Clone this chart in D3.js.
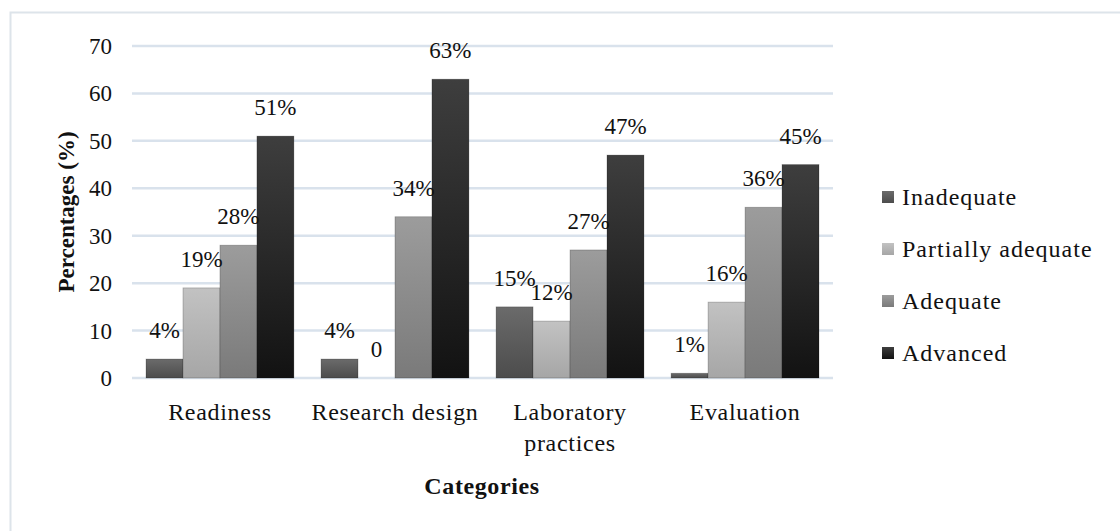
<!DOCTYPE html>
<html>
<head>
<meta charset="utf-8">
<script src="https://cdn.jsdelivr.net/npm/d3@7"></script>
<style>
  body { margin: 0; background: #fff; }
  svg { font-family: "Liberation Serif", "DejaVu Serif", serif; }
</style>
</head>
<body>
<svg id="chart" width="1120" height="531"></svg>
<script>
var categories = ["Readiness", "Research design", "Laboratory practices", "Evaluation"];
var levels = ["Inadequate", "Partially adequate", "Adequate", "Advanced"];
var inadequate = [4, 4, 15, 1];
var partially = [19, 0, 12, 16];
var adequate = [28, 34, 27, 36];
var advanced = [51, 63, 47, 45];
var yTicks = [0, 10, 20, 30, 40, 50, 60, 70];

var series = [inadequate, partially, adequate, advanced];

/** gradient colours for each level: top, bottom **/
var shades = [["#6b6b6b", "#4c4c4c"], ["#c2c2c2", "#a6a6a6"], ["#9c9c9c", "#7a7a7a"], ["#3e3e3e", "#121212"]];

var svg = d3.select("#chart");

/** outer frame **/
svg.append("rect")
    .attr("x", 10.5).attr("y", 12.5)
    .attr("width", 1130).attr("height", 540)
    .attr("fill", "none")
    .attr("stroke", "#dde4ea")
    .attr("stroke-width", 2);

var margin = {left: 132, right: 833, top: 46, bottom: 378};

var x0 = d3.scaleBand()
    .domain(categories)
    .range([margin.left, margin.right])
    .paddingInner(0.155)
    .paddingOuter(0.08);

var x1 = d3.scaleBand()
    .domain(levels)
    .range([0, x0.bandwidth()]);

var y = d3.scaleLinear()
    .domain([0, 70])
    .range([margin.bottom, margin.top]);

var defs = svg.append("defs");
shades.forEach(function (s, i) {
    var g = defs.append("linearGradient")
        .attr("id", "grad" + i)
        .attr("x1", 0).attr("y1", 0).attr("x2", 0).attr("y2", 1);
    g.append("stop").attr("offset", "0%").attr("stop-color", s[0]);
    g.append("stop").attr("offset", "100%").attr("stop-color", s[1]);
});

/** gridlines **/
svg.append("g").selectAll("line")
    .data(yTicks)
    .enter().append("line")
    .attr("x1", margin.left).attr("x2", margin.right)
    .attr("y1", function (d) { return y(d); })
    .attr("y2", function (d) { return y(d); })
    .attr("stroke", "#d9e2ec")
    .attr("stroke-width", 2.5);

/** y axis tick labels **/
svg.append("g").selectAll("text")
    .data(yTicks)
    .enter().append("text")
    .attr("x", 112)
    .attr("y", function (d) { return y(d); })
    .attr("dy", "0.35em")
    .attr("text-anchor", "end")
    .style("font-size", "23px")
    .style("fill", "#111")
    .text(function (d) { return d; });

/** bars **/
var groups = svg.append("g").selectAll("g")
    .data(categories)
    .enter().append("g")
    .attr("transform", function (d) { return "translate(" + x0(d) + ",0)"; });

groups.selectAll("rect")
    .data(function (d, ci) { return levels.map(function (l, li) { return {level: l, li: li, v: series[li][ci]}; }); })
    .enter().append("rect")
    .attr("x", function (d) { return x1(d.level); })
    .attr("width", x1.bandwidth())
    .attr("y", function (d) { return y(d.v); })
    .attr("height", function (d) { return y(0) - y(d.v); })
    .attr("fill", function (d) { return "url(#grad" + d.li + ")"; })
    .attr("stroke", function (d) { return d.v > 0 ? "rgba(0,0,0,0.25)" : "none"; })
    .attr("stroke-width", 0.8);

groups.selectAll("text.val")
    .data(function (d, ci) { return levels.map(function (l, li) { return {level: l, v: series[li][ci]}; }); })
    .enter().append("text")
    .attr("class", "val")
    .attr("x", function (d) { return x1(d.level) + x1.bandwidth() / 2; })
    .attr("y", function (d) { return y(d.v) - 21; })
    .attr("text-anchor", "middle")
    .style("font-size", "23px")
    .style("fill", "#111")
    .text(function (d) { return d.v === 0 ? "0" : d.v + "%"; });

/** category labels **/
var catLines = {"Laboratory practices": ["Laboratory", "practices"]};
categories.forEach(function (c) {
    var lines = catLines[c] || [c];
    var t = svg.append("text")
        .attr("x", x0(c) + x0.bandwidth() / 2)
        .attr("y", 420)
        .attr("text-anchor", "middle")
        .style("font-size", "24px")
        .style("letter-spacing", "0.7px")
        .style("fill", "#111");
    lines.forEach(function (l, i) {
        t.append("tspan")
            .attr("x", x0(c) + x0.bandwidth() / 2)
            .attr("dy", i === 0 ? 0 : 31)
            .text(l);
    });
});

/** axis titles **/
svg.append("text")
    .attr("x", 482).attr("y", 494)
    .attr("text-anchor", "middle")
    .style("font-size", "24px")
    .style("letter-spacing", "0.6px")
    .style("font-weight", "700")
    .style("fill", "#111")
    .text("Categories");

svg.append("text")
    .attr("transform", "translate(74,212) rotate(-90)")
    .attr("text-anchor", "middle")
    .style("font-size", "23px")
    .style("font-weight", "700")
    .style("fill", "#111")
    .text("Percentages (%)");

/** legend **/
var legend = svg.append("g").selectAll("g")
    .data(levels)
    .enter().append("g")
    .attr("transform", function (d, i) { return "translate(882," + (197 + i * 52) + ")"; });

legend.append("rect")
    .attr("x", 0).attr("y", -6)
    .attr("width", 12).attr("height", 12)
    .attr("fill", function (d, i) { return "url(#grad" + i + ")"; });

legend.append("text")
    .attr("x", 20).attr("y", 0)
    .attr("dy", "0.35em")
    .style("font-size", "24px")
    .style("letter-spacing", "1px")
    .style("fill", "#111")
    .text(function (d) { return d; });
</script>
</body>
</html>
